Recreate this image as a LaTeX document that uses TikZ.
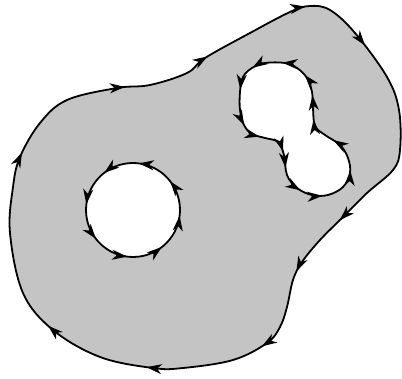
\documentclass[tikz,border=0pt]{standalone}
\usetikzlibrary{decorations.markings,arrows.meta}
\definecolor{regionfill}{RGB}{196,196,196}
\tikzset{
  harr/.tip={Stealth[length=15pt,width=10pt,inset=4.5pt]},
  bnd/.style={line width=1.8pt, line join=round},
}
\begin{document}
\begin{tikzpicture}[x=1pt,y=-1pt]
\useasboundingbox (0,0) rectangle (402,379);
\def\outerpath{plot[smooth cycle, tension=0.6] coordinates {
 (205,58) (250,33) (290,12) (310,6) (330,10) (355,33) (387,77) (399,110) (400,150) (393,170)
 (367,193) (343,217) (320,240) (302,262) (293,280) (287,307) (280,327) (267,343)
 (233,360) (183,368) (153,368) (100,357) (53,330) (23,293) (10,233) (13,187)
 (20,157) (40,123) (67,100) (117,88) (150,85) (187,73)}}
\def\peanutpath{plot[smooth cycle, tension=0.6] coordinates {
 (307,78) (297,68) (285,63) (265,63) (252,68) (243,77) (240,92) (240,110) (244,125) (252,134)
 (265,138) (278,142) (284,155) (287,175) (297,188) (312,195) (328,195) (343,187)
 (350,173) (348,158) (340,145) (325,135) (315,126) (313,108) (312,92)}}
% filled region
\fill[regionfill, even odd rule] \outerpath (133,210) circle[radius=47] \peanutpath;
% outer boundary (clockwise on screen)
\draw[bnd, postaction={decorate, decoration={markings,
  mark=at position 0.052 with {\arrow{harr}},
  mark=at position 0.116 with {\arrow{harr}},
  mark=at position 0.293 with {\arrow{harr}},
  mark=at position 0.350 with {\arrow{harr}},
  mark=at position 0.422 with {\arrow{harr}},
  mark=at position 0.523 with {\arrow{harr}},
  mark=at position 0.615 with {\arrow{harr}},
  mark=at position 0.772 with {\arrow{harr}},
  mark=at position 0.882 with {\arrow{harr}},
  mark=at position 0.959 with {\arrow{harr}}}}] \outerpath;
% circular hole (counterclockwise on screen)
\draw[bnd, postaction={decorate, decoration={markings,
  mark=at position 0.105 with {\arrow{harr}},
  mark=at position 0.230 with {\arrow{harr}},
  mark=at position 0.355 with {\arrow{harr}},
  mark=at position 0.480 with {\arrow{harr}},
  mark=at position 0.605 with {\arrow{harr}},
  mark=at position 0.730 with {\arrow{harr}},
  mark=at position 0.855 with {\arrow{harr}},
  mark=at position 0.980 with {\arrow{harr}}}}]
  (180,210) arc[start angle=0, end angle=-360, radius=47];
% peanut hole (counterclockwise on screen)
\draw[bnd, postaction={decorate, decoration={markings,
  mark=at position 0.040 with {\arrow{harr}},
  mark=at position 0.119 with {\arrow{harr}},
  mark=at position 0.186 with {\arrow{harr}},
  mark=at position 0.279 with {\arrow{harr}},
  mark=at position 0.330 with {\arrow{harr}},
  mark=at position 0.407 with {\arrow{harr}},
  mark=at position 0.449 with {\arrow{harr}},
  mark=at position 0.521 with {\arrow{harr}},
  mark=at position 0.580 with {\arrow{harr}},
  mark=at position 0.685 with {\arrow{harr}},
  mark=at position 0.778 with {\arrow{harr}},
  mark=at position 0.855 with {\arrow{harr}},
  mark=at position 0.917 with {\arrow{harr}},
  mark=at position 0.973 with {\arrow{harr}}}}] \peanutpath;
\end{tikzpicture}
\end{document}
